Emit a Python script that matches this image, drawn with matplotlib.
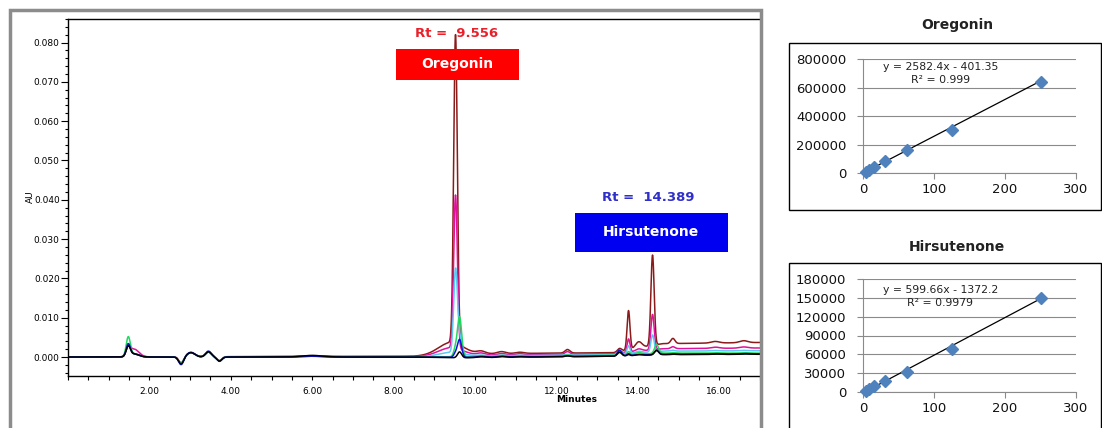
import numpy as np
import matplotlib
matplotlib.use("Agg")
import matplotlib.pyplot as plt
from matplotlib.patches import Rectangle
from matplotlib import font_manager
from matplotlib.ticker import MultipleLocator, FixedLocator

# chromatogram: peak table (retention time, min / sigma, min) and heights (AU) per trace
peak_rt = [1.48, 1.62, 2.78, 3.02, 3.45, 3.72, 6.0, 9.40, 9.52, 9.62, 10.15, 10.65,
           11.1, 12.27, 13.55, 13.77, 14.02, 14.36, 14.46, 14.86, 15.9, 16.6]
peak_w = [0.05, 0.12, 0.06, 0.10, 0.07, 0.06, 0.25, 0.30, 0.045, 0.05, 0.10, 0.10,
          0.10, 0.06, 0.05, 0.035, 0.08, 0.04, 0.05, 0.05, 0.10, 0.10]
maroon_h = [0.0025, 0.0008, -0.0016, 0.0010, 0.0012, -0.0010, 0.0002, 0.0030, 0.0785, 0.0000, 0.0006, 0.0005,
            0.0003, 0.0009, 0.0008, 0.0100, 0.0016, 0.0230, 0.0000, 0.0013, 0.0004, 0.0005]
magenta_h = [0.0020, 0.0020, -0.0017, 0.0011, 0.0013, -0.0010, 0.0002, 0.0020, 0.0390, 0.0000, 0.0005, 0.0004,
             0.0003, 0.0007, 0.0006, 0.0034, 0.0006, 0.0090, 0.0000, 0.0005, 0.0003, 0.0003]
cyan_h = [0.0030, 0.0008, -0.0017, 0.0011, 0.0013, -0.0010, 0.0002, 0.0010, 0.0210, 0.0040, 0.0002, 0.0002,
          0.0001, 0.0002, 0.0008, 0.0020, 0.0004, 0.0043, 0.0000, 0.0002, 0.0001, 0.0001]
green_h = [0.0048, 0.0008, -0.0017, 0.0011, 0.0013, -0.0010, 0.0002, 0.0000, 0.0020, 0.0100, 0.0002, 0.0002,
           0.0001, 0.0002, 0.0006, 0.0008, 0.0004, 0.0000, 0.0022, 0.0001, 0.0001, 0.0001]
blue_h = [0.0030, 0.0008, -0.0020, 0.0012, 0.0015, -0.0011, 0.0002, 0.0000, 0.0010, 0.0045, 0.0002, 0.0002,
          0.0001, 0.0002, 0.0015, 0.0005, 0.0002, 0.0000, 0.0010, 0.0001, 0.0001, 0.0001]
black_h = [0.0025, 0.0008, -0.0018, 0.0011, 0.0013, -0.0010, 0.0004, 0.0000, 0.0000, 0.0015, 0.0002, 0.0002,
           0.0001, 0.0002, 0.0010, 0.0003, 0.0002, 0.0000, 0.0012, 0.0001, 0.0001, 0.0001]

# baseline drift per trace (AU) at these times
base_t = [0.0, 8.5, 9.6, 13.4, 14.6, 17.0]
maroon_base = [0.0, 0.0002, 0.0008, 0.0011, 0.0034, 0.0037]
magenta_base = [0.0, 0.0001, 0.0004, 0.0008, 0.0021, 0.0023]
cyan_base = [0.0, 0.0, 0.0002, 0.0006, 0.0015, 0.0016]
green_base = [0.0, 0.0, 0.0001, 0.0004, 0.0010, 0.0010]
blue_base = [0.0, 0.0, -0.0001, 0.0002, 0.0007, 0.0008]
black_base = [0.0, 0.0, -0.0002, 0.0002, 0.0006, 0.0007]

x_ticks = [2, 4, 6, 8, 10, 12, 14, 16]
x_tick_labels = ["2.00", "4.00", "6.00", "8.00", "10.00", "12.00", "14.00", "16.00"]
y_ticks = [0.0, 0.01, 0.02, 0.03, 0.04, 0.05, 0.06, 0.07, 0.08]
y_tick_labels = ["0.000", "0.010", "0.020", "0.030", "0.040", "0.050", "0.060", "0.070", "0.080"]

# calibration curves
oreg_conc = [3.9, 7.8, 15.6, 31.25, 62.5, 125, 250]
oreg_area = [6000, 20000, 42000, 84000, 163000, 305000, 640000]
oreg_slope, oreg_icpt, oreg_r2 = 2582.4, -401.35, "0.999"
hirs_conc = [3.9, 7.8, 15.6, 31.25, 62.5, 125, 250]
hirs_area = [1500, 4000, 9500, 18000, 32000, 68000, 149000]
hirs_slope, hirs_icpt, hirs_r2 = 599.66, -1372.2, "0.9979"

W, H = 1102, 428
fig = plt.figure(figsize=(W / 100, H / 100), dpi=100)

names = {f.name for f in font_manager.fontManager.ttflist}
narrow = "Liberation Sans Narrow" if "Liberation Sans Narrow" in names else "DejaVu Sans"

# outer grey frame of chromatogram panel
fig.patches.append(Rectangle((10 / W, -0.02), (761 - 10) / W, 1.02 - 10 / H,
                             transform=fig.transFigure, fill=False, ec="#8c8c8c", lw=2.5))

ax = fig.add_axes([68 / W, 1 - 376 / H, (760 - 68) / W, (376 - 19) / H])
t = np.linspace(0, 17, 3401)


def trace(heights, levels):
    y = np.interp(t, base_t, levels)
    for rt, w, h in zip(peak_rt, peak_w, heights):
        y = y + h * np.exp(-0.5 * ((t - rt) / w) ** 2)
    return y


series = [(maroon_h, maroon_base, "#8b1a1a"), (magenta_h, magenta_base, "#e0119d"),
          (cyan_h, cyan_base, "#5bc8f5"), (green_h, green_base, "#22d860"),
          (blue_h, blue_base, "#1414d8"), (black_h, black_base, "#000000")]
for h, b, c in series:
    ax.plot(t, trace(h, b), color=c, lw=1.1, zorder=2)

ax.set_xlim(0, 17)
ax.set_ylim(-0.00483, 0.0860)
ax.xaxis.set_major_locator(FixedLocator(x_ticks))
ax.set_xticklabels(x_tick_labels)
ax.xaxis.set_minor_locator(MultipleLocator(0.5))
ax.yaxis.set_major_locator(FixedLocator(y_ticks))
ax.set_yticklabels(y_tick_labels)
ax.yaxis.set_minor_locator(MultipleLocator(0.002))
ax.tick_params(axis="x", which="both", direction="out", length=3, width=0.8, pad=5,
               labelsize=6.5, top=False)
ax.tick_params(axis="y", which="major", direction="out", length=5, width=0.8, pad=1, labelsize=6.5)
ax.tick_params(axis="y", which="minor", direction="out", length=2.5, width=0.8)
for lab in ax.get_xticklabels() + ax.get_yticklabels():
    lab.set_family(narrow)
ax.spines["right"].set_visible(False)
for s in ["left", "bottom", "top"]:
    ax.spines[s].set_linewidth(1.0)

fig.text(30 / W, 1 - 197 / H, "AU", rotation=90, ha="center", va="center",
         fontsize=6.5, family=narrow)
fig.text(577 / W, 1 - 400 / H, "Minutes", ha="center", va="center",
         fontsize=6.5, family=narrow, fontweight="bold")

# peak labels
ax.add_patch(Rectangle((8.06, 0.0705), 11.08 - 8.06, 0.0079, fc="#ff0000", ec="none", zorder=3))
ax.text(9.57, 0.0745, "Oregonin", color="white", fontsize=10, fontweight="bold",
        ha="center", va="center", zorder=4)
ax.text(9.556, 0.0824, "Rt =  9.556", color="#e8202a", fontsize=9.5, fontweight="bold",
        ha="center", va="center", zorder=4)
ax.add_patch(Rectangle((12.45, 0.0267), 16.21 - 12.45, 0.0099, fc="#0000f0", ec="none", zorder=3))
ax.text(14.33, 0.0317, "Hirsutenone", color="white", fontsize=10, fontweight="bold",
        ha="center", va="center", zorder=4)
ax.text(14.25, 0.0407, "Rt =  14.389", color="#3030c8", fontsize=9.5, fontweight="bold",
        ha="center", va="center", zorder=4)


def calib(top_px, bot_px, frame_top, frame_bot, title_px, title, conc, area, slope, icpt, r2,
          ymax, ystep, eq_y, r2_y):
    fig.patches.append(Rectangle((789 / W, 1 - frame_bot / H), (1101 - 789) / W,
                                 (frame_bot - frame_top) / H, transform=fig.transFigure,
                                 fill=False, ec="black", lw=1.0))
    fig.text(957 / W, 1 - title_px / H, title, ha="center", va="center",
             fontsize=10, fontweight="bold", color="#222222")
    a = fig.add_axes([863 / W, 1 - bot_px / H, (1076 - 863) / W, (bot_px - top_px) / H])
    a.set_xlim(0, 300)
    a.set_ylim(0, ymax)
    a.set_yticks(np.arange(0, ymax + 1, ystep))
    a.set_xticks([0, 100, 200, 300])
    a.grid(axis="y", color="#8a8a8a", lw=0.8)
    a.set_axisbelow(True)
    for s in ["top", "right"]:
        a.spines[s].set_visible(False)
    for s in ["left", "bottom"]:
        a.spines[s].set_color("#8a8a8a")
        a.spines[s].set_linewidth(0.8)
    a.tick_params(axis="both", colors="#8a8a8a", labelcolor="#111111", labelsize=9.5,
                  length=4, width=0.8)
    a.tick_params(axis="x", pad=3)
    a.tick_params(axis="y", pad=8, length=4)
    xs = np.array([min(conc), max(conc)])
    a.plot(xs, slope * xs + icpt, color="black", lw=0.9, zorder=2)
    a.plot(conc, area, linestyle="none", marker="D", ms=6.5, color="#4f81bd", zorder=3,
           clip_on=False)
    sign = "-" if icpt < 0 else "+"
    a.text(109, eq_y, f"y = {slope}x {sign} {abs(icpt)}", ha="center", va="center",
           fontsize=7.8, color="#222222")
    a.text(109, r2_y, f"R² = {r2}", ha="center", va="center", fontsize=7.8, color="#222222")
    return a


calib(59, 173, 43, 210, 25, "Oregonin", oreg_conc, oreg_area, oreg_slope, oreg_icpt, oreg_r2,
      800000, 200000, 744000, 653000)
calib(279, 392, 263, 432, 247, "Hirsutenone", hirs_conc, hirs_area, hirs_slope, hirs_icpt, hirs_r2,
      180000, 30000, 162500, 141800)

fig.savefig("out.png", dpi=100)
